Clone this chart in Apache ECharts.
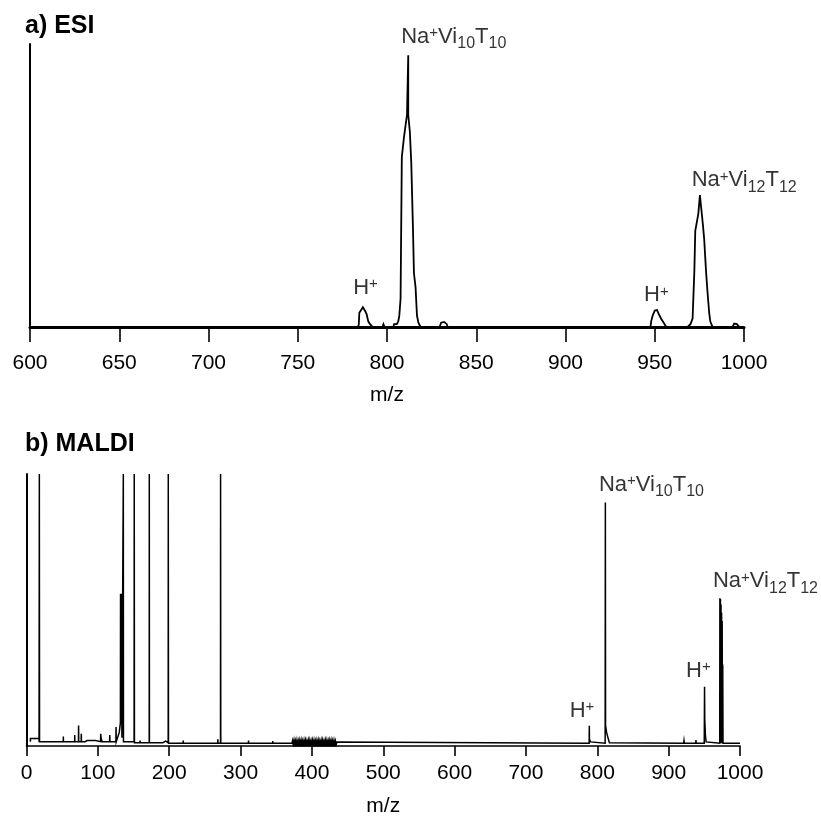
<!DOCTYPE html>
<html>
<head>
<meta charset="utf-8">
<script src="https://cdn.jsdelivr.net/npm/echarts@6/dist/echarts.min.js"></script>
<style>
  html, body { margin: 0; padding: 0; background: #fff; }
  #chart { width: 821px; height: 824px; }
</style>
</head>
<body>
<div id="chart"></div>
<script>
// a) ESI spectrum, [m/z, relative intensity]
const esiSpectrum = [
  [600, 0], [783.8, 0], [784.2, 1], [784.5, 5], [785.5, 5.5], [786.5, 7], [787.3, 7.5],
  [787.9, 5.5], [788.6, 4.5], [789.5, 2], [790.5, 1], [792, 0],
  [797.5, 0], [798, 1], [798.6, 0], [803.5, 0], [804, 1], [805.5, 1], [806.3, 2],
  [806.9, 4], [807.6, 10], [808.3, 60], [809.5, 67], [811.2, 75], [811.9, 75],
  [811.9, 96], [811.9, 75], [812.8, 69], [813.6, 58], [814.5, 36], [815.1, 19],
  [816, 14], [816.8, 4], [817.6, 1.5], [818.8, 0],
  [829.5, 0], [830.3, 1.5], [832, 1.8], [833.5, 1], [834, 0],
  [947.6, 0], [948, 2], [948.8, 4], [950, 5.8], [951.3, 6], [952.3, 4.5], [953.5, 3],
  [955, 1.5], [956.5, 0],
  [968.4, 0], [970, 1], [971.2, 3], [972.2, 20], [972.7, 34], [973.6, 34], [974.4, 40],
  [975.3, 46.6], [976.2, 41], [977, 36], [977.7, 31], [978.7, 20], [979.6, 12],
  [980.5, 5], [981.1, 2], [982.4, 0],
  [993.6, 0], [994.5, 1.2], [996, 1], [997.4, 0], [1000, 0]
];

// b) MALDI spectrum, [m/z, relative intensity]; off-scale lines are cut at 100
const maldiSpectrum = [
  [5.5, 1.6], [5.5, 2.8], [17.6, 2.8], [17.6, 1.6], [18, 1.6], [18, 100], [18.3, 1.6],
  [51.5, 1.6], [51.6, 3.5], [51.8, 1.6], [56, 1.6], [56.1, 2.2], [56.3, 1.6],
  [67.5, 1.6], [67.6, 4], [67.8, 1.6], [72.8, 1.6], [73, 7.5], [73.2, 1.6],
  [76.6, 1.6], [76.8, 4.5], [77, 1.6], [82, 1.6], [82.1, 2.2], [82.3, 1.6],
  [85, 2], [97, 2], [97.2, 1.6], [103.8, 1.6], [104, 4.5], [104.5, 3], [105.5, 3], [106, 1.6],
  [116.5, 1.6], [116.7, 4], [117, 1.6], [125.3, 1.6], [125.5, 7], [125.8, 1.6],
  [127.5, 1.6], [130, 5], [131.6, 8.5], [131.8, 56], [132.2, 8], [132.6, 56], [133, 8],
  [133.4, 56], [133.7, 3],
  [135.6, 3], [135.7, 100], [135.9, 1.6],
  [150.8, 1.6], [151, 100], [151.3, 1.2], [159, 1.2], [159.2, 2], [159.4, 1.2],
  [172, 1.2], [172.1, 100], [172.3, 1.2], [178, 1.2], [178.2, 1.8], [178.4, 1.2],
  [191, 1.2], [191.2, 1.8], [195, 1.8], [195.2, 1.2],
  [198.6, 1.2], [198.7, 100], [199, 1], [219.5, 1], [219.7, 2], [219.9, 1],
  [268, 1], [268.2, 2.5], [268.4, 1], [271.9, 1], [272, 100], [272.3, 1],
  [311, 1], [311.2, 2], [311.4, 1], [345, 1], [345.2, 1.8], [345.4, 1],
  [372, 1], [373, 2], [374, 0.2], [375, 2], [376, 0.2], [377, 1.8], [378, 0.2],
  [379, 2], [380, 0.2], [381, 1.8], [382, 0.2], [383, 2], [384, 0.3], [385, 2],
  [386, 0.2], [387, 1.8], [388, 0.2], [389, 2], [390, 0.3], [391, 2], [392, 0.2],
  [393, 1.8], [394, 0.2], [395, 2], [396, 0.3], [397, 2], [398, 0.2], [399, 1.8],
  [400, 0.2], [401, 2], [402, 0.3], [403, 2], [404, 0.2], [405, 1.8], [406, 0.2],
  [407, 2], [408, 0.3], [409, 2], [410, 0.2], [411, 1.8], [412, 0.2], [413, 2],
  [414, 0.3], [415, 2], [416, 0.2], [417, 1.8], [418, 0.2], [419, 2], [420, 0.3],
  [421, 2], [422, 0.2], [423, 1.8], [424, 0.2], [425, 2], [426, 0.3], [427, 2],
  [428, 0.2], [429, 1.8], [430, 0.2], [431, 2], [432, 0.3], [433, 1.8], [434, 0.4],
  [435, 1.5], [437, 1],
  [788.6, 1], [788.8, 7.4], [789, 2.5], [790.5, 1.5], [791.5, 1],
  [811, 1], [811.3, 89.5], [811.6, 7.5], [813, 5], [815, 3], [817, 1.2], [818, 1],
  [921, 1], [921.5, 2], [922, 1], [938, 1], [938.3, 2.2], [938.6, 1],
  [949.9, 1], [950.3, 21.8], [950.6, 10], [951.5, 4], [952.5, 1.5], [953, 1],
  [971.6, 1], [971.8, 54.3], [972.3, 1], [972.6, 54], [973, 1], [973.4, 52],
  [973.8, 1], [974.2, 49], [974.6, 1], [975, 46], [975.4, 1], [975.8, 30], [976.2, 1],
  [1000, 1]
];

// peak annotations, anchored at the peak top [m/z, intensity]
const esiPeakLabels = [
  { text: 'Na{sup|+}Vi{sub|10}T{sub|10}', mz: 811.9, y: 96 },
  { text: 'Na{sup|+}Vi{sub|12}T{sub|12}', mz: 975.3, y: 46.6 },
  { text: 'H{sup|+}', mz: 787.5, y: 7 },
  { text: 'H{sup|+}', mz: 951.3, y: 6 }
];
const maldiPeakLabels = [
  { text: 'Na{sup|+}Vi{sub|10}T{sub|10}', mz: 811.3, y: 89.5 },
  { text: 'Na{sup|+}Vi{sub|12}T{sub|12}', mz: 971.8, y: 54.3 },
  { text: 'H{sup|+}', mz: 788.8, y: 7.4 },
  { text: 'H{sup|+}', mz: 950.3, y: 21.8 }
];

const esiTicks = { min: 600, max: 1000, interval: 50 };
const maldiTicks = { min: 0, max: 1000, interval: 100 };

// label placement relative to the anchor (pixels)
const esiLabelOffsets = [[45.5, -16.7], [44.3, -13], [0.8, -17.7], [-0.7, -13]];
const maldiLabelOffsets = [[46.1, -15.9], [45.6, -15], [-7.3, -13.1], [-6.2, -13.9]];

const FONT = '"Liberation Sans", Arial, Helvetica, sans-serif';

const rich = {
  b: { fontSize: 22, fontFamily: FONT, color: '#000', verticalAlign: 'top', lineHeight: 26 },
  sup: { fontSize: 15, fontFamily: FONT, color: '#000', verticalAlign: 'top' },
  sub: { fontSize: 16, fontFamily: FONT, color: '#000', verticalAlign: 'top', padding: [10, 0, 0, 0] }
};

function wrapBase(text) {
  // plain parts go into the {b|...} style so every token aligns from the top
  return text.replace(/(^|\})([^{}]+)(?=\{|$)/g, (m, pre, body) => pre + '{b|' + body + '}');
}

function labelSeries(labels, offsets, axisIndex) {
  return {
    type: 'scatter',
    xAxisIndex: axisIndex,
    yAxisIndex: axisIndex,
    symbolSize: 1,
    itemStyle: { color: 'rgba(0,0,0,0)' },
    silent: true,
    z: 5,
    data: labels.map((l, i) => ({
      value: [l.mz, l.y],
      label: {
        show: true,
        position: 'inside',
        offset: offsets[i],
        color: '#000',
        formatter: wrapBase(l.text),
        rich: rich
      }
    }))
  };
}

function xAxis(ticks, gridIndex, tickLen, lineWidth, labelMargin, nameGap) {
  return {
    type: 'value',
    gridIndex: gridIndex,
    min: ticks.min,
    max: ticks.max,
    interval: ticks.interval,
    name: 'm/z',
    nameLocation: 'middle',
    nameGap: nameGap,
    nameTextStyle: { fontSize: 21, fontFamily: FONT, color: '#000' },
    axisLine: { show: true, lineStyle: { color: '#000', width: lineWidth } },
    axisTick: { show: true, inside: false, length: tickLen, lineStyle: { color: '#000', width: 1.6 } },
    axisLabel: {
      fontSize: 21, fontFamily: FONT, color: '#000', margin: labelMargin,
      formatter: (v) => String(v)
    },
    splitLine: { show: false }
  };
}

function yAxis(gridIndex) {
  return {
    type: 'value',
    gridIndex: gridIndex,
    min: 0,
    max: 100,
    axisLine: { show: true, lineStyle: { color: '#000', width: 2 } },
    axisTick: { show: false },
    axisLabel: { show: false },
    splitLine: { show: false }
  };
}

function lineSeries(data, axisIndex, width) {
  return {
    type: 'line',
    xAxisIndex: axisIndex,
    yAxisIndex: axisIndex,
    data: data,
    showSymbol: false,
    symbol: 'none',
    clip: true,
    lineStyle: { color: '#000', width: width, join: 'miter' }
  };
}

function buildOption() {
  return {
    animation: false,
    backgroundColor: '#fff',
    title: [
      {
        text: 'a) ESI', left: 25, top: 14, padding: 0,
        textStyle: { fontSize: 25, fontWeight: 'bold', fontFamily: FONT, color: '#000' }
      },
      {
        text: 'b) MALDI', left: 25, top: 432, padding: 0,
        textStyle: { fontSize: 25, fontWeight: 'bold', fontFamily: FONT, color: '#000' }
      }
    ],
    grid: [
      { left: 30, top: 44, width: 714, height: 283 },
      { left: 26.5, top: 474, width: 713.5, height: 272 }
    ],
    xAxis: [
      xAxis(esiTicks, 0, 15, 3, 26, 58),
      xAxis(maldiTicks, 1, 10, 1.6, 17, 50)
    ],
    yAxis: [yAxis(0), yAxis(1)],
    series: [
      lineSeries(esiSpectrum, 0, 1.8),
      lineSeries(maldiSpectrum, 1, 1.5),
      labelSeries(esiPeakLabels, esiLabelOffsets, 0),
      labelSeries(maldiPeakLabels, maldiLabelOffsets, 1)
    ]
  };
}

const chart = echarts.init(document.getElementById('chart'), null, { renderer: 'canvas' });
chart.setOption(buildOption());
</script>
</body>
</html>
